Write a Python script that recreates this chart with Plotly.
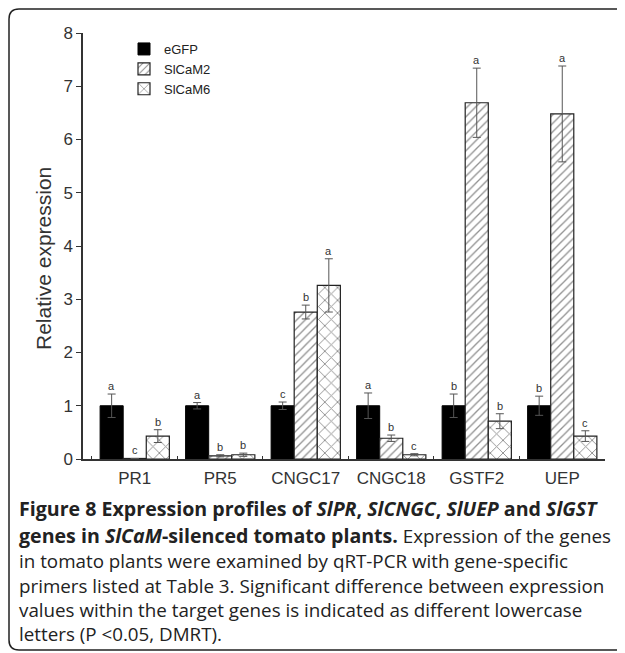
import plotly.graph_objects as go

genes = ["PR1", "PR5", "CNGC17", "CNGC18", "GSTF2", "UEP"]
series_names = ["eGFP", "SlCaM2", "SlCaM6"]

egfp = [1.0, 1.0, 1.0, 1.0, 1.0, 1.0]
egfp_err = [0.22, 0.06, 0.07, 0.24, 0.22, 0.18]
slcam2 = [0.01, 0.06, 2.76, 0.39, 6.69, 6.48]
slcam2_err = [0.0, 0.02, 0.13, 0.06, 0.65, 0.9]
slcam6 = [0.43, 0.08, 3.26, 0.08, 0.71, 0.43]
slcam6_err = [0.12, 0.03, 0.5, 0.02, 0.14, 0.1]

letters_egfp = ["a", "a", "c", "a", "b", "b"]
letters_slcam2 = ["c", "b", "b", "b", "a", "a"]
letters_slcam6 = ["b", "b", "a", "c", "b", "c"]

ymax = 8
yticks = [0, 1, 2, 3, 4, 5, 6, 7, 8]
y_title = "Relative expression"

# page geometry: the browser body has an 8px margin, so the figure is offset
OFF = 8
W, H = 625 - OFF, 653 - OFF
# plot area in reference page pixels: x 83..605, y 33..459
ML, MT = 83 - OFF, 33 - OFF
MR = W - (605 - OFF)
MB = H - (459 - OFF)
PW = W - ML - MR
PH = H - MT - MB
X_LO, X_HI = -0.605, 5.5
BARGAP = 0.19


def px_x(p):
    """reference page px -> paper x"""
    return (p - OFF - ML) / PW


def px_y(p):
    """reference page px -> paper y"""
    return (H - MB - (p - OFF)) / PH


fig = go.Figure()

series = [
    (egfp, egfp_err, letters_egfp, dict(color="black", line=dict(color="black", width=1))),
    (slcam2, slcam2_err, letters_slcam2,
     dict(color="white", line=dict(color="#222", width=1.2),
          pattern=dict(shape="/", fgcolor="#222", bgcolor="white", size=6, solidity=0.22))),
    (slcam6, slcam6_err, letters_slcam6,
     dict(color="white", line=dict(color="#222", width=1.2),
          pattern=dict(shape="x", fgcolor="#222", bgcolor="white", size=9, solidity=0.2))),
]

for name, (vals, errs, _, marker) in zip(series_names, series):
    fig.add_trace(go.Bar(
        x=genes, y=vals, name=name, marker=marker,
        error_y=dict(type="data", array=errs, arrayminus=errs, visible=True,
                     color="#555", thickness=1, width=4),
    ))

# significance letters
unit_px = PW / (X_HI - X_LO)
bar_w = (1 - BARGAP) / 3
annotations = []
for i, (vals, errs, lets, _) in enumerate(series):
    for g, v, e, l in zip(genes, vals, errs, lets):
        annotations.append(dict(
            x=g, y=v + e, xref="x", yref="y", text=l, showarrow=False,
            xshift=(i - 1) * bar_w * unit_px, yanchor="bottom", yshift=0,
            font=dict(family="Liberation Sans", size=11, color="#333"),
        ))

# y-axis title (placed as annotation to match its vertical position)
annotations.append(dict(
    x=px_x(43), y=px_y(259), xref="paper", yref="paper", text=y_title,
    showarrow=False, textangle=-90, xanchor="center", yanchor="middle",
    font=dict(family="Liberation Sans", size=21, color="#333"),
))

# caption
cap_font = dict(family="Open Sans", size=18.8, color="#222")
B = '<span style="font-size:19.6px"><b>'
BE = '</b></span>'
caption_lines = [
    B + "Figure 8 Expression profiles of <i>SlPR</i>, <i>SlCNGC</i>, <i>SlUEP</i> and <i>SlGST</i>" + BE,
    B + "genes in <i>SlCaM</i>-silenced tomato plants." + BE + " Expression of the genes",
    "in tomato plants were examined by qRT-PCR with gene-specific",
    "primers listed at Table 3. Significant difference between expression",
    "values within the target genes is indicated as different lowercase",
    "letters (P &lt;0.05, DMRT).",
]
line_y = [509, 535, 561, 586, 610, 634]
for t, yy in zip(caption_lines, line_y):
    annotations.append(dict(
        x=px_x(17), y=px_y(yy), xref="paper", yref="paper", text=t,
        showarrow=False, xanchor="left", yanchor="middle", align="left",
        font=cap_font,
    ))

# rounded frame (reference page px)
r = 10
x0, y0, y1, x1 = 9, 9, 650, 660
frame_path = (
    f"M {px_x(x1)},{px_y(y0)} L {px_x(x0 + r)},{px_y(y0)} "
    f"Q {px_x(x0)},{px_y(y0)} {px_x(x0)},{px_y(y0 + r)} "
    f"L {px_x(x0)},{px_y(y1 - r)} "
    f"Q {px_x(x0)},{px_y(y1)} {px_x(x0 + r)},{px_y(y1)} "
    f"L {px_x(x1)},{px_y(y1)}"
)

fig.update_layout(
    width=W, height=H,
    margin=dict(l=ML, r=MR, t=MT, b=MB),
    paper_bgcolor="white", plot_bgcolor="white",
    barmode="group", bargap=BARGAP, bargroupgap=0,
    font=dict(family="Liberation Sans", color="#333"),
    showlegend=True,
    legend=dict(x=px_x(124), y=px_y(34), xanchor="left", yanchor="top",
                bgcolor="rgba(0,0,0,0)", font=dict(size=13, color="#222"),
                tracegroupgap=0, itemwidth=30),
    annotations=annotations,
    shapes=[dict(type="path", path=frame_path, xref="paper", yref="paper",
                 line=dict(color="#222", width=1.5))],
)

fig.update_xaxes(
    type="category", range=[X_LO, X_HI],
    showline=True, linecolor="#333", linewidth=1.5,
    ticks="inside", tickson="boundaries", ticklen=3, tickcolor="#333",
    ticklabelstandoff=3,
    tickfont=dict(size=17, color="#333"), showgrid=False, zeroline=False,
)
fig.update_yaxes(
    range=[0, ymax], tickvals=yticks,
    showline=True, linecolor="#333", linewidth=1.5,
    ticks="outside", ticklen=5, tickcolor="#333",
    tickfont=dict(size=17, color="#333"), showgrid=False, zeroline=False,
)

fig.write_html("out.html")
